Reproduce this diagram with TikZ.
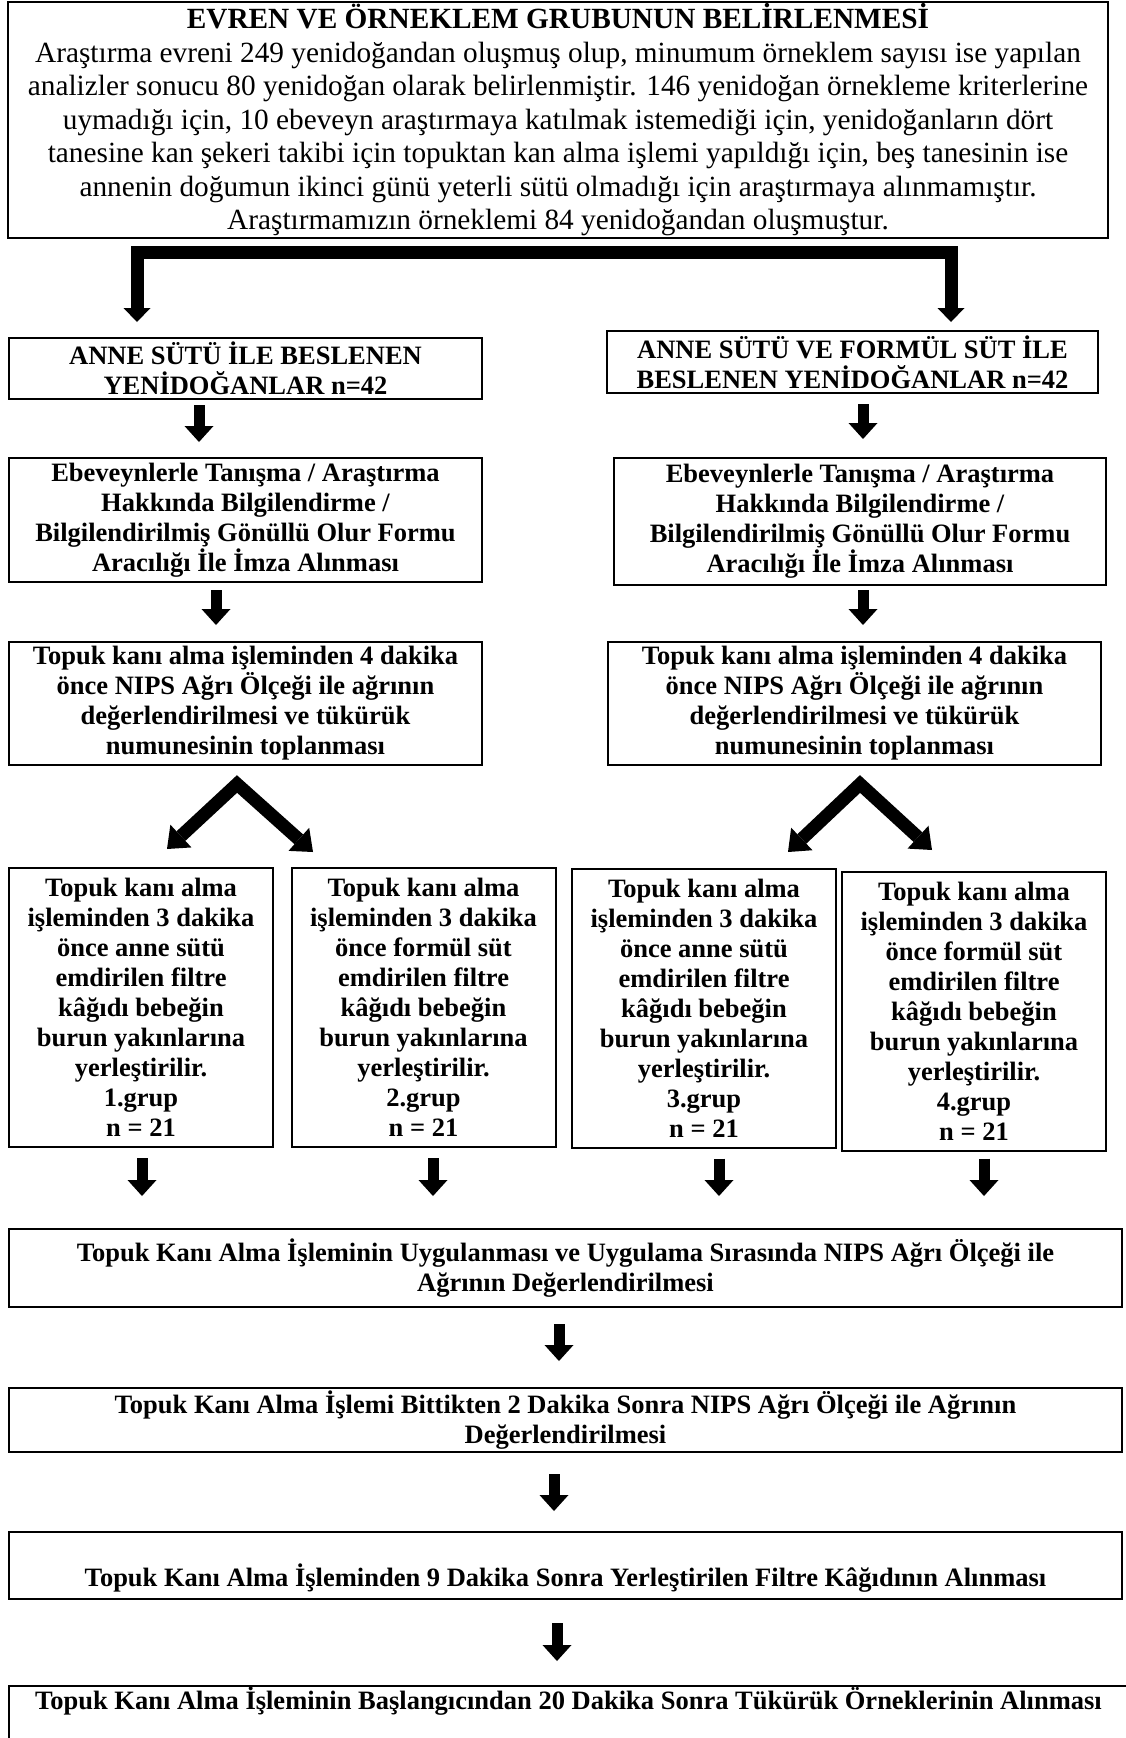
\documentclass[tikz,border=0pt]{standalone}
\usepackage{fontspec}
\setmainfont{Liberation Serif}
\usetikzlibrary{arrows.meta,calc}

\begin{document}
\begin{tikzpicture}[x=1pt,y=1pt,
    box/.style={draw, line width=2pt, align=center, inner sep=0pt,
      font=\fontsize{26.5}{30}\selectfont\bfseries},
    flowarrow/.style={line width=11pt,
      -{Triangle[width=29pt,length=16pt,line width=0pt]}},
    forkarrow/.style={line width=13pt, line join=miter,
      {Triangle[width=31pt,length=19pt,line width=0pt]}-{Triangle[width=31pt,length=19pt,line width=0pt]}},
    bararrow/.style={line width=13pt, line join=miter,
      {Triangle[width=27pt,length=14pt,line width=0pt]}-{Triangle[width=27pt,length=14pt,line width=0pt]}}]
    \useasboundingbox (0,0) rectangle (1125,-1738);

    % --- Population and sample ---
    \node[box, line width=2.5pt, minimum width=1100pt, minimum height=236pt,
      font=\fontsize{29.3}{33.5}\selectfont] (pop) at (558,-120)
      {\textbf{EVREN VE ÖRNEKLEM GRUBUNUN BELİRLENMESİ}\\
       Araştırma evreni 249 yenidoğandan oluşmuş olup, minumum örneklem sayısı ise yapılan\\
       analizler sonucu 80 yenidoğan olarak belirlenmiştir. 146 yenidoğan örnekleme kriterlerine\\
       uymadığı için, 10 ebeveyn araştırmaya katılmak istemediği için, yenidoğanların dört\\
       tanesine kan şekeri takibi için topuktan kan alma işlemi yapıldığı için, beş tanesinin ise\\
       annenin doğumun ikinci günü yeterli sütü olmadığı için araştırmaya alınmamıştır.\\
       Araştırmamızın örneklemi 84 yenidoğandan oluşmuştur.};

    % Split bar
    \coordinate (barL) at (137,-322);
    \coordinate (barLtop) at (137,-252);
    \coordinate (barRtop) at (951,-252);
    \coordinate (barR) at (951,-322);
    \draw[bararrow] (barL) -- (barLtop) -- (barRtop) -- (barR);

    % --- Two feeding groups ---
    \node[box, minimum width=473pt, minimum height=61pt] (milkA) at (245.5,-368.5)
      {ANNE SÜTÜ İLE BESLENEN\\YENİDOĞANLAR n=42};
    \node[box, minimum width=491pt, minimum height=62pt] (milkB) at (852.5,-362)
      {ANNE SÜTÜ VE FORMÜL SÜT İLE\\BESLENEN YENİDOĞANLAR n=42};

    \node[box, minimum width=473pt, minimum height=124pt] (consA) at (245.5,-520)
      {Ebeveynlerle Tanışma / Araştırma\\Hakkında Bilgilendirme /\\Bilgilendirilmiş Gönüllü Olur Formu\\Aracılığı İle İmza Alınması};
    \node[box, minimum width=492pt, minimum height=127pt] (consB) at (860,-521.5)
      {Ebeveynlerle Tanışma / Araştırma\\Hakkında Bilgilendirme /\\Bilgilendirilmiş Gönüllü Olur Formu\\Aracılığı İle İmza Alınması};

    \node[box, minimum width=473pt, minimum height=123pt] (preA) at (245.5,-703.5)
      {Topuk kanı alma işleminden 4 dakika\\önce NIPS Ağrı Ölçeği ile ağrının\\değerlendirilmesi ve tükürük\\numunesinin toplanması};
    \node[box, minimum width=493pt, minimum height=123pt] (preB) at (854.5,-703.5)
      {Topuk kanı alma işleminden 4 dakika\\önce NIPS Ağrı Ölçeği ile ağrının\\değerlendirilmesi ve tükürük\\numunesinin toplanması};

    % Fork arrows
    \coordinate (forkA) at (237,-784);
    \coordinate (forkA1) at (167,-849);
    \coordinate (forkA2) at (313,-852);
    \coordinate (forkB) at (860,-784);
    \coordinate (forkB1) at (788,-852);
    \coordinate (forkB2) at (932,-850);
    \draw[forkarrow] (forkA1) -- (forkA) -- (forkA2);
    \draw[forkarrow] (forkB1) -- (forkB) -- (forkB2);

    % --- Four study groups ---
    \foreach \g/\x/\y/\milk in {1/141/1007.5/anne sütü, 2/423.5/1007.5/formül süt,
                                3/704/1008/anne sütü, 4/974/1011/formül süt}
    {
        \node[box, minimum width=264pt, minimum height=279pt] (grp\g) at (\x,-\y)
          {Topuk kanı alma\\işleminden 3 dakika\\önce \milk\\emdirilen filtre\\kâğıdı bebeğin\\burun yakınlarına\\yerleştirilir.\\\g.grup\\n = 21};
    }

    % --- Common steps ---
    \node[box, minimum width=1113pt, minimum height=78pt] (heel) at (565.5,-1268)
      {Topuk Kanı Alma İşleminin Uygulanması ve Uygulama Sırasında NIPS Ağrı Ölçeği ile\\Ağrının Değerlendirilmesi};
    \node[box, minimum width=1113pt, minimum height=64pt] (after) at (565.5,-1420)
      {Topuk Kanı Alma İşlemi Bittikten 2 Dakika Sonra NIPS Ağrı Ölçeği ile Ağrının\\Değerlendirilmesi};
    \node[box, minimum width=1113pt, minimum height=67pt, text height=48pt, text depth=6pt] (filter) at (565.5,-1565.5)
      {Topuk Kanı Alma İşleminden 9 Dakika Sonra Yerleştirilen Filtre Kâğıdının Alınması};
    \node[box, minimum width=1119pt, minimum height=80pt, text height=20pt, text depth=54pt] (saliva) at (568.5,-1726)
      {Topuk Kanı Alma İşleminin Başlangıcından 20 Dakika Sonra Tükürük Örneklerinin Alınması};

    % Down arrows
    \foreach \from/\to/\ax/\gapa/\gapb in {milkA/consA/199/5/15, consA/preA/216/7/16,
        milkB/consB/863/10/18, consB/preB/863/4/16,
        grp1/heel/142/10/32, grp2/heel/433/10/32, grp3/heel/719/10/32, grp4/heel/984/7/32,
        heel/after/559/16/26, after/filter/554/21/20, filter/saliva/557/23/24}
    {
        \draw[flowarrow, shorten <=\gapa pt, shorten >=\gapb pt] (\ax,0 |- \from.south) -- (\ax,0 |- \to.north);
    }
\end{tikzpicture}
\end{document}
